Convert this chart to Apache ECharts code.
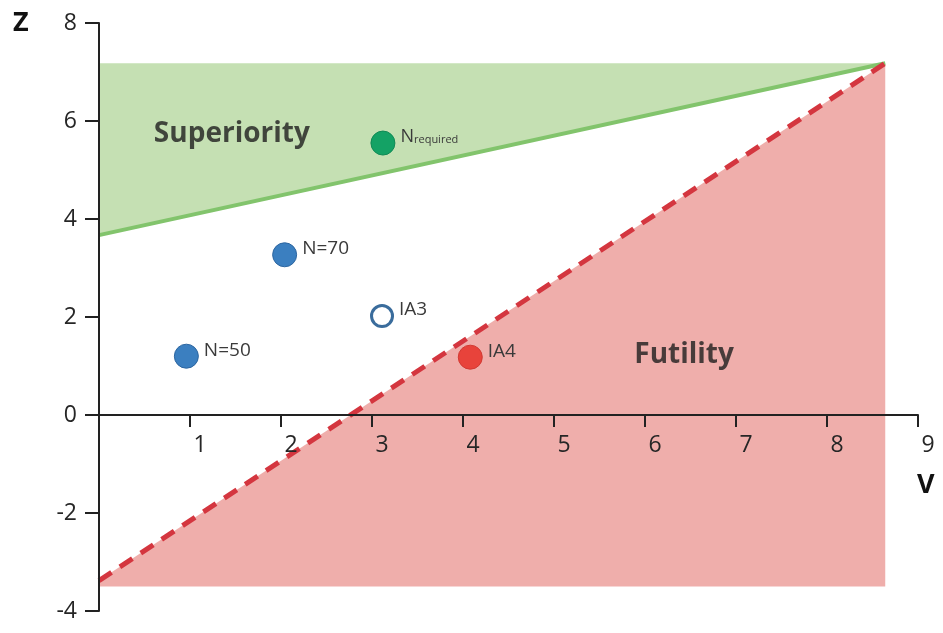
<!DOCTYPE html>
<html>
<head>
<meta charset="utf-8">
<script src="https://cdn.jsdelivr.net/npm/echarts@6/dist/echarts.min.js"></script>
<style>
  html, body { margin: 0; padding: 0; background: #fff; }
  #chart { width: 943px; height: 633px; }
</style>
</head>
<body>
<div id="chart"></div>
<script>
// Stopping boundaries of the sequential design in the (V, Z) plane
const superiorityLine = [[0, 3.67], [8.64, 7.18]];
const superiorityCeiling = 7.18;
const futilityLine = [[0, -3.38], [8.64, 7.18]];
const futilityFloor = -3.5;

// Analysis points
const pointNames = ['N=50', 'N=70', 'IA3', 'IA4', 'Nrequired'];
const pointV = [0.96, 2.04, 3.11, 4.08, 3.12];
const pointZ = [1.2, 3.27, 2.02, 1.18, 5.55];

// Region captions
const regionNames = ['Superiority', 'Futility'];
const regionV = [1.46, 6.43];
const regionZ = [5.73, 1.22];

// Axis extents
const vRange = [0, 9];
const zRange = [-4, 8];

const FONT = '"Open Sans", Lato, sans-serif';
const AXIS_COLOR = '#222';

// Plot area in pixels
const GRID = { left: 99, right: 25, top: 23, bottom: 22 };
const CHART_H = 633;
const gridHeight = CHART_H - GRID.top - GRID.bottom;
// The V axis crosses the Z axis at Z = 0
const vAxisOffset = -gridHeight * (0 - zRange[0]) / (zRange[1] - zRange[0]);

const pointStyle = {
  'N=50': { color: '#3b7fc0', borderColor: '#2d66a0', borderWidth: 1, size: 24 },
  'N=70': { color: '#3b7fc0', borderColor: '#2d66a0', borderWidth: 1, size: 24 },
  'IA3': { color: '#ffffff', borderColor: '#3a6c9c', borderWidth: 3, size: 21 },
  'IA4': { color: '#e8433b', borderColor: '#d23a33', borderWidth: 1, size: 24 },
  'Nrequired': { color: '#14a265', borderColor: '#118a55', borderWidth: 1, size: 24 }
};

function polygonSeries(vertices, fill, z) {
  return {
    type: 'custom',
    silent: true,
    z: z,
    data: [[0, 0]],
    renderItem: function (params, api) {
      return {
        type: 'polygon',
        shape: { points: vertices.map(function (p) { return api.coord(p); }) },
        style: { fill: fill }
      };
    }
  };
}

const superiorityRegion = [
  [superiorityLine[0][0], superiorityCeiling],
  [superiorityLine[1][0], superiorityCeiling],
  superiorityLine[1],
  superiorityLine[0]
];
const futilityRegion = [
  futilityLine[0],
  futilityLine[1],
  [futilityLine[1][0], futilityFloor],
  [futilityLine[0][0], futilityFloor]
];

const chart = echarts.init(document.getElementById('chart'), null, { renderer: 'canvas' });

chart.setOption({
  animation: false,
  backgroundColor: '#ffffff',
  grid: Object.assign({ outerBoundsMode: 'none', containLabel: false }, GRID),
  xAxis: {
    type: 'value',
    z: 10,
    min: vRange[0], max: vRange[1], interval: 1,
    offset: vAxisOffset,
    axisLine: { onZero: false, lineStyle: { color: AXIS_COLOR, width: 2 } },
    axisTick: { show: true, length: 12, lineStyle: { color: AXIS_COLOR, width: 2 } },
    splitLine: { show: false },
    axisLabel: {
      margin: 19,
      fontFamily: FONT, fontSize: 23, color: '#262626',
      padding: [0, 0, 0, 20],
      formatter: function (v) { return v === 0 ? '' : String(v); }
    }
  },
  yAxis: {
    type: 'value',
    z: 10,
    min: zRange[0], max: zRange[1], interval: 2,
    axisLine: { onZero: false, lineStyle: { color: AXIS_COLOR, width: 2 } },
    axisTick: { show: true, length: 14, lineStyle: { color: AXIS_COLOR, width: 2 } },
    splitLine: { show: false },
    axisLabel: { margin: 22, fontFamily: FONT, fontSize: 23, color: '#262626' }
  },
  graphic: [
    { type: 'text', left: 13, top: 10, style: { text: 'Z', font: 'bold 27px ' + FONT, fill: '#111' } },
    { type: 'text', left: 917, top: 472, style: { text: 'V', font: 'bold 27px ' + FONT, fill: '#111' } }
  ],
  series: [
    polygonSeries(superiorityRegion, '#c5e0b3', 1),
    polygonSeries(futilityRegion, '#efaeab', 1),
    {
      // short stub of the V axis to the left of the Z axis
      type: 'line', clip: false, silent: true, symbol: 'none', z: 3,
      data: [[-0.22, 0], [0, 0]],
      lineStyle: { color: AXIS_COLOR, width: 2 }
    },
    {
      type: 'line', symbol: 'none', silent: true, z: 4,
      data: superiorityLine,
      lineStyle: { color: '#82c46c', width: 4 }
    },
    {
      type: 'line', symbol: 'none', silent: true, z: 4,
      data: futilityLine,
      lineStyle: { color: '#d4363f', width: 5, type: [15, 10] }
    },
    {
      type: 'scatter', z: 5, silent: true,
      data: pointNames.map(function (n, i) {
        const s = pointStyle[n];
        return {
          name: n,
          value: [pointV[i], pointZ[i]],
          symbolSize: s.size,
          itemStyle: { color: s.color, borderColor: s.borderColor, borderWidth: s.borderWidth, opacity: 1 }
        };
      }),
      label: {
        show: true, position: 'right', distance: 5, offset: [0, -6],
        fontFamily: FONT, fontSize: 19, color: '#3a3a3a',
        formatter: function (p) {
          return p.name === 'Nrequired' ? '{n|N}{s|required}' : p.name;
        },
        rich: {
          n: { fontFamily: FONT, fontSize: 18, color: '#3a3a3a' },
          s: { fontFamily: FONT, fontSize: 11, color: '#3a3a3a', padding: [6, 0, 0, 0] }
        }
      }
    },
    {
      type: 'scatter', z: 6, silent: true, symbolSize: 0,
      data: regionNames.map(function (n, i) { return { name: n, value: [regionV[i], regionZ[i]] }; }),
      label: {
        show: true, position: 'inside',
        fontFamily: FONT, fontSize: 28, fontWeight: 'bold', color: '#1e1e1e',
        formatter: function (p) { return p.name; }
      }
    }
  ]
});
</script>
</body>
</html>
